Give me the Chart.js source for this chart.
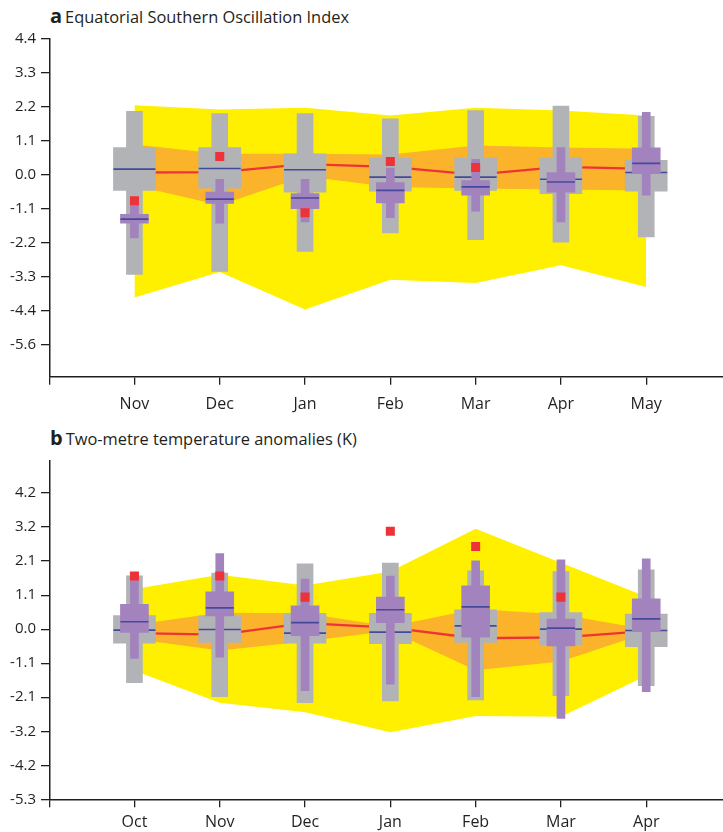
<!DOCTYPE html>
<html>
<head>
<meta charset="utf-8">
<title>ENSO and T2m boxplots</title>
<script src="https://cdn.jsdelivr.net/npm/chart.js@4.4.1/dist/chart.umd.min.js"></script>
<style>
	html, body { margin: 0; padding: 0; background: #fff; }
	#wrap { position: relative; width: 723px; height: 832px; overflow: hidden; }
	canvas { position: absolute; left: 0; }
	.ttl {
		position: absolute; left: 50px; white-space: nowrap;
		font-family: "Open Sans", sans-serif; font-size: 16.4px; line-height: 22px; color: #231f20;
	}
	.ttl b { font-size: 20px; margin-right: 3px; }
</style>
</head>
<body>
<div id="wrap">
	<div class="ttl" style="top:5px"><b>a</b>Equatorial Southern Oscillation Index</div>
	<canvas id="chartA" width="723" height="416" style="top:0"></canvas>
	<div class="ttl" style="top:427px"><b>b</b>Two-metre temperature anomalies (K)</div>
	<canvas id="chartB" width="723" height="416" style="top:416px"></canvas>
</div>
<script>
// panel a: Equatorial SOI
var monthsA = ['Nov', 'Dec', 'Jan', 'Feb', 'Mar', 'Apr', 'May'];
var yTicksA = [4.44, 3.33, 2.22, 1.11, 0, -1.11, -2.22, -3.33, -4.44, -5.55];
var yLabelsA = ['4.4', '3.3', '2.2', '1.1', '0.0', '-1.1', '-2.2', '-3.3', '-4.4', '-5.6'];
var yellowHiA = [2.26, 2.12, 2.18, 1.93, 2.18, 2.09, 1.93];
var yellowLoA = [-4.0, -3.17, -4.39, -3.42, -3.53, -2.95, -3.66];
var orangeHiA = [0.98, 0.68, 0.68, 0.66, 0.95, 0.88, 0.84];
var orangeLoA = [-0.35, -1.0, -0.05, -0.4, -0.45, -0.48, -0.52];
var redLineA = [0.07, 0.08, 0.34, 0.25, 0.0, 0.25, 0.19];
// [min, q1, median, q3, max]
var greyA = [
	[-3.25, -0.51, 0.18, 0.88, 2.06],
	[-3.15, -0.44, 0.2, 0.88, 1.99],
	[-2.5, -0.57, 0.16, 0.68, 1.99],
	[-1.9, -0.54, -0.08, 0.54, 1.82],
	[-2.12, -0.51, -0.08, 0.54, 2.09],
	[-2.2, -0.62, -0.15, 0.55, 2.23],
	[-2.03, -0.54, 0.07, 0.47, 1.9]
];
var purpleA = [
	[-2.06, -1.58, -1.45, -1.29, -0.95],
	[-1.58, -0.94, -0.8, -0.57, -0.15],
	[-1.54, -1.11, -0.76, -0.62, -0.15],
	[-1.4, -0.92, -0.51, -0.26, 0.21],
	[-1.19, -0.67, -0.4, -0.19, 0.5],
	[-1.54, -0.57, -0.24, 0.07, 0.88],
	[-0.67, 0.03, 0.37, 0.87, 2.03]
];
var obsA = [-0.85, 0.59, -1.24, 0.43, 0.23, null, null];

// panel b: two-metre temperature anomalies
var monthsB = ['Oct', 'Nov', 'Dec', 'Jan', 'Feb', 'Mar', 'Apr'];
var yTicksB = [4.2, 3.15, 2.1, 1.05, 0, -1.05, -2.1, -3.15, -4.2, -5.25];
var yLabelsB = ['4.2', '3.2', '2.1', '1.1', '0.0', '-1.1', '-2.1', '-3.2', '-4.2', '-5.3'];
var yellowHiB = [1.24, 1.68, 1.35, 1.78, 3.1, 2.05, 1.0];
var yellowLoB = [-1.28, -2.27, -2.56, -3.18, -2.68, -2.7, -1.44];
var orangeHiB = [0.14, 0.51, 0.49, 0.08, 0.62, 0.45, 0.0];
var orangeLoB = [-0.3, -0.66, -0.38, -0.05, -1.27, -1.0, -0.12];
var redLineB = [-0.12, -0.17, 0.19, 0.05, -0.28, -0.25, -0.06];
var greyB = [
	[-1.65, -0.43, -0.03, 0.42, 1.65],
	[-2.08, -0.41, -0.01, 0.41, 1.73],
	[-2.27, -0.43, -0.12, 0.49, 2.02],
	[-2.21, -0.45, -0.09, 0.49, 2.04],
	[-2.18, -0.41, 0.1, 0.6, 1.8],
	[-2.05, -0.48, 0.0, 0.51, 1.78],
	[-1.74, -0.54, -0.04, 0.47, 1.83]
];
var purpleB = [
	[-0.9, -0.1, 0.23, 0.77, 1.6],
	[-0.86, 0.41, 0.66, 1.15, 2.33],
	[-1.9, -0.2, 0.2, 0.72, 1.55],
	[-1.7, 0.2, 0.6, 0.99, 1.64],
	[-2.08, -0.25, 0.69, 1.34, 2.11],
	[-2.75, -0.52, 0.03, 0.31, 2.14],
	[-1.93, -0.07, 0.32, 0.94, 2.17]
];
var obsB = [1.64, 1.64, 0.99, 3.02, 2.55, 0.99, null];

var YELLOW = '#fff000', ORANGE = '#fab32b', GREY = '#b2b3b6', PURPLE = '#a383be';
var NAVY = '#444a9a', RED = '#ee3338', AXIS = '#231f20';
var FONT = '"Open Sans", sans-serif';

function pts(vals) {
	var out = [];
	vals.forEach(function (v, i) { if (v !== null) out.push({x: i + 1, y: v}); });
	return out;
}
function col(rows, k) { return rows.map(function (r) { return r[k]; }); }
function bars(rows, lo, hi) {
	return rows.map(function (r, i) { return {x: i + 1, y: [r[lo], r[hi]]}; });
}

function band(hi, lo, color, order) {
	return [
		{type: 'line', data: pts(hi), borderWidth: 0, pointRadius: 0, fill: '+1', backgroundColor: color, order: order},
		{type: 'line', data: pts(lo), borderWidth: 0, pointRadius: 0, fill: false, order: order}
	];
}
function boxSet(rows, color, boxW, whiskW, baseOrder) {
	return [
		{type: 'bar', data: bars(rows, 0, 4), backgroundColor: color, barThickness: whiskW, grouped: false, borderWidth: 0, order: baseOrder + 2},
		{type: 'bar', data: bars(rows, 1, 3), backgroundColor: color, barThickness: boxW, grouped: false, borderWidth: 0, order: baseOrder + 1},
		{type: 'line', data: pts(col(rows, 2)), showLine: false, pointStyle: 'line', pointRadius: boxW / 2,
			pointBorderColor: NAVY, pointBorderWidth: 1.7, order: baseOrder}
	];
}

function makeChart(id, p) {
	var ds = [].concat(
		band(p.yHi, p.yLo, YELLOW, 20),
		band(p.oHi, p.oLo, ORANGE, 19),
		[{type: 'line', data: pts(p.red), borderColor: RED, borderWidth: 2.3, pointRadius: 0, fill: false, order: 18}],
		boxSet(p.grey, GREY, 42, 16, 10),
		boxSet(p.purple, PURPLE, 28, 8, 5),
		[{type: 'line', data: pts(p.obs), showLine: false, pointStyle: 'rect', pointRadius: 6.4,
			pointBackgroundColor: RED, pointBorderWidth: 0, order: 1}]
	);
	return new Chart(document.getElementById(id), {
		type: 'bar',
		data: {datasets: ds},
		options: {
			responsive: false,
			animation: false,
			events: [],
			layout: {autoPadding: false, padding: {top: p.top, left: 0, right: 0, bottom: 0}},
			plugins: {legend: {display: false}, tooltip: {enabled: false}},
			scales: {
				x: {
					type: 'linear', offset: false, min: 0.01, max: 7.9,
					afterBuildTicks: function (s) {
						s.ticks = [0.01, 1, 2, 3, 4, 5, 6, 7].map(function (v) { return {value: v}; });
					},
					afterFit: function (s) { s.height = p.xh; },
					grid: {display: true, offset: false, drawOnChartArea: false, drawTicks: true, tickLength: 8, color: AXIS, lineWidth: 1.3},
					border: {display: true, color: AXIS, width: 1.5},
					ticks: {
						autoSkip: false, maxRotation: 0, padding: p.xpad, color: AXIS,
						font: {family: FONT, size: 16},
						callback: function (v) { return Number.isInteger(v) ? p.months[v - 1] : ''; }
					}
				},
				y: {
					type: 'linear', min: p.min, max: p.max,
					afterBuildTicks: function (s) {
						s.ticks = p.ticks.map(function (v) { return {value: v}; });
					},
					afterFit: function (s) { s.width = 50; },
					grid: {display: true, drawOnChartArea: false, drawTicks: true, tickLength: 9, color: AXIS, lineWidth: 1.3},
					border: {display: true, color: AXIS, width: 1.5},
					ticks: {
						padding: 5, color: AXIS, font: {family: FONT, size: 15},
						callback: function (v, i) { return p.labels[i]; }
					}
				}
			}
		}
	});
}

makeChart('chartA', {
	months: monthsA, ticks: yTicksA, labels: yLabelsA, min: -6.58, max: 4.44,
	top: 38.3, xh: 39.3, xpad: 10,
	yHi: yellowHiA, yLo: yellowLoA, oHi: orangeHiA, oLo: orangeLoA, red: redLineA,
	grey: greyA, purple: purpleA, obs: obsA
});
makeChart('chartB', {
	months: monthsB, ticks: yTicksB, labels: yLabelsB, min: -5.25, max: 5.2,
	top: 44.7, xh: 32.7, xpad: 6,
	yHi: yellowHiB, yLo: yellowLoB, oHi: orangeHiB, oLo: orangeLoB, red: redLineB,
	grey: greyB, purple: purpleB, obs: obsB
});
</script>
</body>
</html>
